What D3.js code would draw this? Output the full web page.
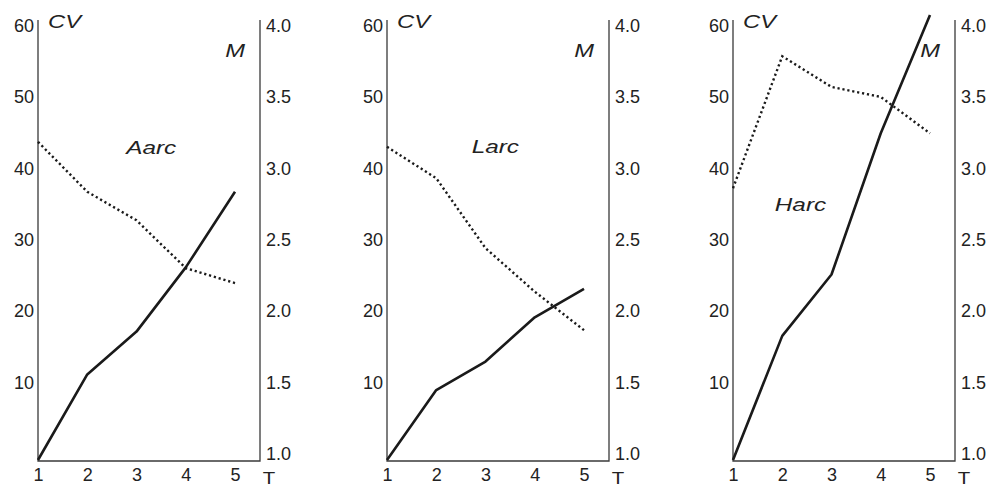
<!DOCTYPE html>
<html lang="en">

<head>
    <meta charset="UTF-8">
    <script src="https://cdn.jsdelivr.net/npm/d3@7/dist/d3.min.js" charset="utf-8"></script>
    <title>CV and M over T</title>
    <style>
        body { margin: 0; background: #fff; }
        text { font-family: "Liberation Sans", Arial, sans-serif; fill: #222; }
    </style>
</head>

<body>
    <script>
        // data
        var tValues = [1, 2, 3, 4, 5];
        var panelNames = ["Aarc", "Larc", "Harc"];
        var mValues = [
            [1.0, 1.60, 1.90, 2.35, 2.88],
            [1.0, 1.49, 1.69, 2.00, 2.20],
            [1.0, 1.87, 2.30, 3.29, 4.12]
        ];
        var cvValues = [
            [44.6, 37.6, 33.6, 26.9, 24.8],
            [43.9, 39.5, 29.7, 23.6, 18.2],
            [38.1, 56.6, 52.3, 50.9, 45.8]
        ];
        var cvTicks = [10, 20, 30, 40, 50, 60];
        var mTicks = [1.0, 1.5, 2.0, 2.5, 3.0, 3.5, 4.0];
        // where the panel name sits, in (T, CV) units
        var nameAt = [[3.3, 42.9], [3.2, 43.0], [2.37, 34.9]];

        var width = 990;
        var height = 488;
        var panelLeft = [38, 387, 733];
        var plotW = 197;      // T=1 .. T=5
        var rightGap = 222;   // distance to the right (M) axis
        var axisTop = 20;
        var axisBottom = 461;

        var yCV = d3.scaleLinear().domain([0, 60]).range([460, 32]);
        var yM = d3.scaleLinear().domain([1, 4]).range([460, 32]);

        var svg = d3.select("body").append("svg").attr("width", width).attr("height", height);

        panelNames.forEach(function (name, i) {
            var L = panelLeft[i];
            var x = d3.scaleLinear().domain([1, 5]).range([L, L + plotW]);
            var R = L + rightGap;
            var g = svg.append("g");

            // frame: left, bottom, right
            g.append("path")
                .attr("d", "M" + L + "," + axisTop + "V" + axisBottom + "H" + R + "V" + axisTop)
                .attr("fill", "none").attr("stroke", "#3a3a3a").attr("stroke-width", 1.3);

            var left = g.append("g").call(d3.axisLeft(yCV).tickValues(cvTicks).tickSize(0).tickPadding(4))
                .attr("transform", "translate(" + L + ",0)");
            var right = g.append("g").call(d3.axisRight(yM).tickValues(mTicks).tickSize(0).tickPadding(6).tickFormat(d3.format(".1f")))
                .attr("transform", "translate(" + R + ",0)");
            var bottom = g.append("g").call(d3.axisBottom(x).tickValues(tValues).tickSize(0).tickPadding(0).tickFormat(d3.format("d")))
                .attr("transform", "translate(0," + axisBottom + ")");

            [left, right, bottom].forEach(function (a) {
                a.select(".domain").remove();
                a.selectAll("text").style("font-family", "Liberation Sans, Arial, sans-serif")
                    .style("font-size", "18px").attr("fill", "#222");
            });
            left.selectAll("text").attr("dy", "-0.02em");
            right.selectAll("text").attr("dy", "-0.02em");
            bottom.selectAll("text").attr("y", 20).attr("dy", "0");

            // M: solid, CV: dotted
            var mLine = d3.line().x(function (d, j) { return x(tValues[j]); }).y(function (d) { return yM(d); });
            var cvLine = d3.line().x(function (d, j) { return x(tValues[j]); }).y(function (d) { return yCV(d); });

            g.append("path").datum(cvValues[i]).attr("d", cvLine)
                .attr("fill", "none").attr("stroke", "#1a1a1a").attr("stroke-width", 2.4)
                .attr("stroke-dasharray", "2.2,2.8");
            g.append("path").datum(mValues[i]).attr("d", mLine)
                .attr("fill", "none").attr("stroke", "#1a1a1a").attr("stroke-width", 2.6)
                .attr("stroke-linejoin", "round");

            // labels
            g.append("text").text("CV").attr("font-style", "italic").attr("font-size", 19)
                .attr("transform", "translate(" + (L + 10) + ",28) scale(1.25,1)");
            g.append("text").text("M").attr("font-style", "italic").attr("font-size", 19)
                .attr("text-anchor", "end")
                .attr("transform", "translate(" + (R - 15) + ",57) scale(1.25,1)");
            g.append("text").text(name).attr("font-style", "italic").attr("font-size", 19)
                .attr("text-anchor", "middle")
                .attr("transform", "translate(" + x(nameAt[i][0]) + "," + yCV(nameAt[i][1]) + ") scale(1.28,1)");
            g.append("text").text("T").attr("font-size", 17).attr("text-anchor", "middle")
                .attr("transform", "translate(" + (R + 9) + ",484) scale(1.2,1)");
        });
    </script>
</body>

</html>
